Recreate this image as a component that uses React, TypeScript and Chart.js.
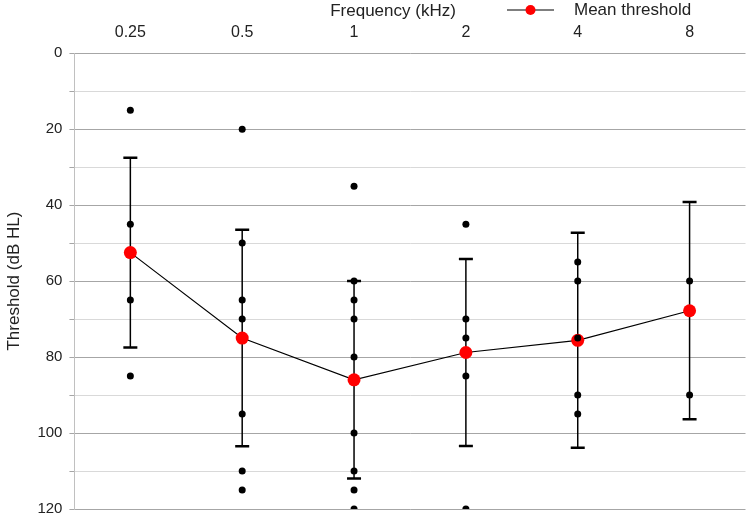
import React, { useEffect, useRef } from "react";
import { Chart, registerables } from "chart.js";

Chart.register(...registerables);

const freqLabels = ["0.25", "0.5", "1", "2", "4", "8"];
const meanThreshold = [52.5, 75, 86, 78.8, 75.6, 67.8];
const sdThreshold = [25, 28.5, 26, 24.6, 28.3, 28.6];

const ind025 = [15, 45, 65, 85];
const ind05 = [20, 50, 65, 70, 95, 110, 115];
const ind1 = [35, 60, 65, 70, 80, 100, 110, 115, 120];
const ind2 = [45, 70, 75, 85, 120];
const ind4 = [55, 60, 75, 90, 95];
const ind8 = [60, 90];

const individual = [ind025, ind05, ind1, ind2, ind4, ind8];

const FONT = "'Liberation Sans', Arial, sans-serif";
const TEXT = "#222222";

const errorBarPlugin = {
  id: "errorBars",
  beforeDatasetsDraw(chart: any) {
    const { ctx, scales } = chart;
    const xs = scales.x;
    const ys = scales.y;
    ctx.save();
    ctx.strokeStyle = "#000";
    meanThreshold.forEach((m, i) => {
      const x = xs.getPixelForValue(i);
      const yTop = ys.getPixelForValue(m - sdThreshold[i]);
      const yBot = ys.getPixelForValue(m + sdThreshold[i]);
      ctx.lineWidth = 1.5;
      ctx.beginPath();
      ctx.moveTo(x, yTop);
      ctx.lineTo(x, yBot);
      ctx.stroke();
      ctx.lineWidth = 2.5;
      ctx.beginPath();
      ctx.moveTo(x - 7, yTop);
      ctx.lineTo(x + 7, yTop);
      ctx.moveTo(x - 7, yBot);
      ctx.lineTo(x + 7, yBot);
      ctx.stroke();
    });
    ctx.restore();
  },
};

const headerPlugin = {
  id: "header",
  afterDraw(chart: any) {
    const { ctx } = chart;
    ctx.save();
    ctx.font = `17px ${FONT}`;
    ctx.fillStyle = TEXT;
    ctx.textBaseline = "middle";
    ctx.textAlign = "center";
    ctx.fillText("Frequency (kHz)", 393, 11);
    // legend
    ctx.strokeStyle = "#000";
    ctx.lineWidth = 1.2;
    ctx.beginPath();
    ctx.moveTo(507, 10);
    ctx.lineTo(554, 10);
    ctx.stroke();
    ctx.fillStyle = "#ff0000";
    ctx.beginPath();
    ctx.arc(530.5, 10, 5, 0, Math.PI * 2);
    ctx.fill();
    ctx.fillStyle = TEXT;
    ctx.textAlign = "left";
    ctx.fillText("Mean threshold", 574, 10);
    ctx.restore();
  },
};

export default function App() {
  const ref = useRef<HTMLCanvasElement | null>(null);

  useEffect(() => {
    document.body.style.margin = "0";
    if (!ref.current) return;
    const pts: { x: string; y: number }[] = [];
    individual.forEach((arr, i) => arr.forEach((v) => pts.push({ x: freqLabels[i], y: v })));

    const chart = new Chart(ref.current, {
      type: "line",
      data: {
        labels: freqLabels,
        datasets: [
          {
            label: "Individual",
            data: pts as any,
            showLine: false,
            pointRadius: 3.5,
            pointBackgroundColor: "#000",
            pointBorderWidth: 0,
            order: 0,
          },
          {
            label: "Mean threshold",
            data: meanThreshold,
            borderColor: "#000",
            borderWidth: 1.2,
            pointRadius: 6.5,
            pointBackgroundColor: "#ff0000",
            pointBorderWidth: 0,
            tension: 0,
            order: 1,
          },
        ],
      },
      options: {
        animation: false,
        responsive: true,
        maintainAspectRatio: false,
        layout: { padding: { top: 12, right: 2, left: 4, bottom: 0 } },
        plugins: {
          legend: { display: false },
          tooltip: { enabled: false },
        },
        scales: {
          x: {
            position: "top",
            offset: true,
            grid: { display: false, drawTicks: false },
            border: { display: false },
            ticks: { font: { family: FONT, size: 16 }, color: TEXT, padding: 11 },
          },
          y: {
            reverse: true,
            min: 0,
            max: 120,
            afterFit: (s: any) => {
              s.paddingBottom = 7;
            },
            grid: {
              color: (c: any) => (c.tick && c.tick.value % 20 === 0 ? "#a6a6a6" : "#d9d9d9"),
              tickColor: "#a6a6a6",
              tickLength: 5,
            },
            border: { color: "#c0c0c0" },
            ticks: {
              stepSize: 10,
              autoSkip: false,
              font: { family: FONT, size: 15 },
              color: TEXT,
              padding: 7,
              callback: (v: any) => (Number(v) % 20 === 0 ? String(v) : ""),
            },
            title: {
              display: true,
              text: "Threshold (dB HL)",
              font: { family: FONT, size: 17 },
              color: TEXT,
              padding: { top: 0, bottom: 6 },
            },
          },
        },
      },
      plugins: [errorBarPlugin, headerPlugin],
    });
    return () => chart.destroy();
  }, []);

  return (
    <div style={{ width: 752, height: 516, position: "relative" }}>
      <canvas ref={ref} />
    </div>
  );
}
